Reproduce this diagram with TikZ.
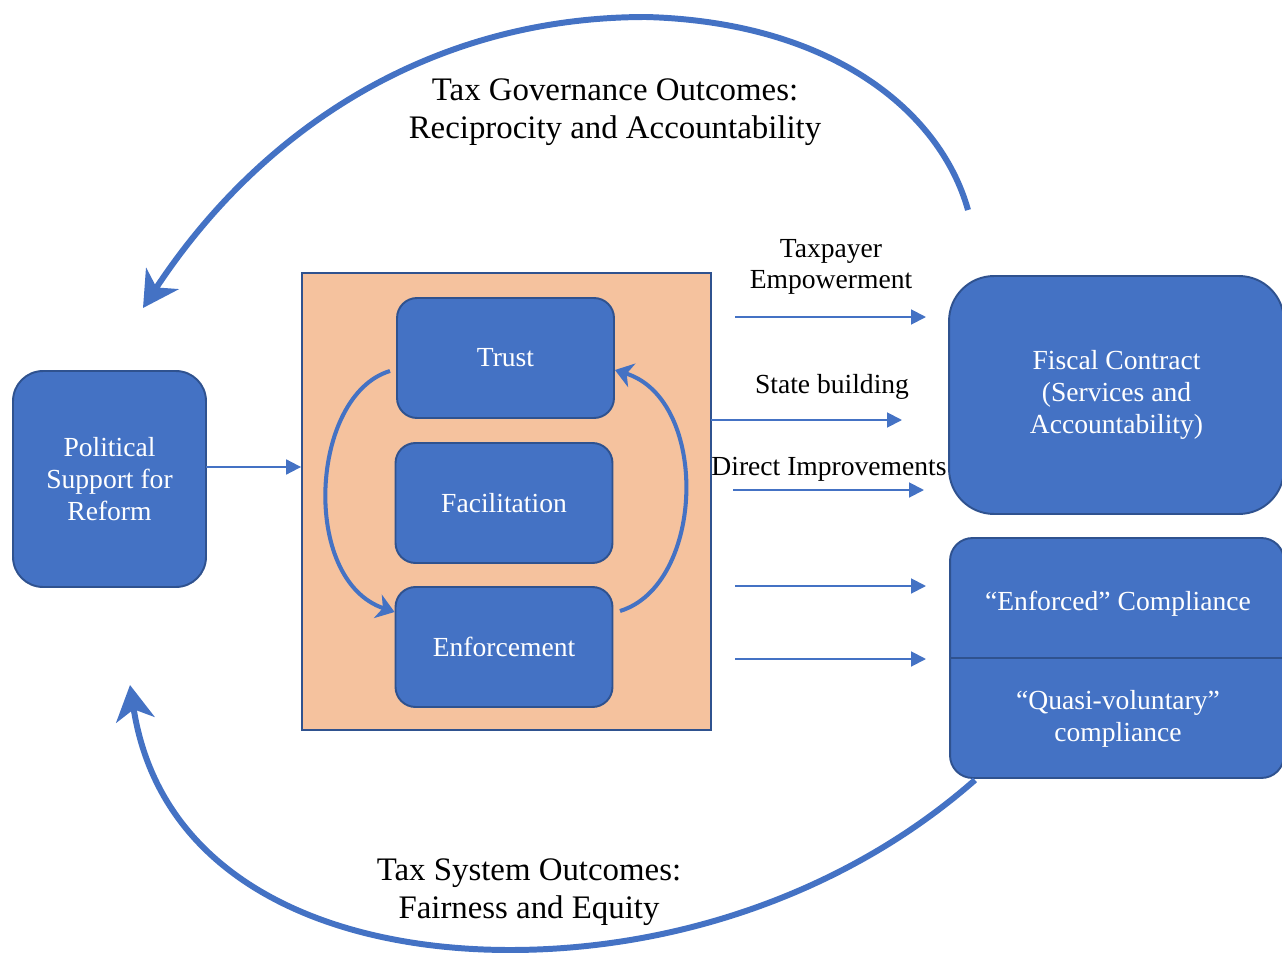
\documentclass[tikz,border=0pt]{standalone}
\usepackage{fontspec}
\setmainfont{Liberation Serif}
\usetikzlibrary{positioning, arrows.meta}

\definecolor{boxblue}{HTML}{4472C4}
\definecolor{edgeblue}{HTML}{2F528F}
\definecolor{peach}{HTML}{F5C29E}

\tikzset{
  block/.style={draw=edgeblue, line width=1.1pt, fill=boxblue, text=white, align=center,
    inner sep=0pt, font=\fontsize{15.7}{18}\selectfont},
  lbl/.style={align=center, inner sep=0pt, font=\fontsize{15.7}{18}\selectfont},
  biglbl/.style={align=center, inner sep=0pt, font=\fontsize{18.7}{21.5}\selectfont},
  flow/.style={draw=boxblue, line width=1.1pt, -{Triangle[length=8.5pt, width=8.5pt]}},
  outerarc/.style={draw=boxblue, line width=3.4pt, -{Stealth[length=20pt, width=22pt, inset=6pt]}},
  innerarc/.style={draw=boxblue, line width=2.3pt, -{Stealth[length=10pt, width=14pt, inset=3pt]}}
}

\begin{document}
\begin{tikzpicture}[x=0.02cm, y=-0.02cm]
    \useasboundingbox (0,0) rectangle (1282,953);
    \def\sw{4.34cm} % width of the small boxes
    \def\sh{2.4cm} % height of the small boxes

    % left box and the peach frame
    \node[block, rounded corners=0.6cm, minimum width=3.86cm, minimum height=4.32cm] (polit) at (109.5,479) {Political\\Support for\\Reform};
    \node[draw=edgeblue, line width=1.1pt, fill=peach, minimum width=8.18cm, minimum height=9.14cm] (frame) at (506.5,501.5) {};

    % the three levers
    \node[block, rounded corners=0.4cm, minimum width=\sw, minimum height=\sh] (trust) at (505.5,358) {Trust};
    \node[block, rounded corners=0.4cm, minimum width=\sw, minimum height=\sh] (facil) at (504,503) {Facilitation};
    \node[block, rounded corners=0.4cm, minimum width=\sw, minimum height=\sh] (enfor) at (504,647) {Enforcement};

    % right boxes
    \node[block, rounded corners=0.9cm, minimum width=6.7cm, minimum height=4.76cm] (fiscal) at (1116.5,395) {Fiscal Contract\\(Services and\\Accountability)};
    \node[block, rounded corners=0.45cm, minimum width=6.68cm, minimum height=4.8cm] (comp) at (1117,658) {};
    \draw[edgeblue, line width=1.1pt] (comp.west) -- (comp.east);
    \node[lbl, text=white] (enfcomp) at (1118,604) {“Enforced” Compliance};
    \node[lbl, text=white] (quasi) at (1118,719) {“Quasi-voluntary”\\compliance};

    % arrow labels
    \node[lbl] (emptext) at (831,267) {Taxpayer\\Empowerment};
    \node[lbl] (sbtext) at (832,387) {State building};
    \node[lbl] (ditext) at (829,469) {Direct Improvements};

    % thin arrows
    \coordinate (pin) at (206,467);
    \draw[flow] (pin) -- (pin -| frame.west);
    \foreach \name/\ya/\xa/\xb in {emp/317/735/926, sb/420/711/902, di/490/733/924, ec/586/735/926, qv/659/735/926} {
      \coordinate (\name-s) at (\xa,\ya);
      \coordinate (\name-e) at (\xb,\ya);
      \draw[flow] (\name-s) -- (\name-e);
    }

    % cycle inside the frame
    \coordinate (tl) at (390,371);
    \coordinate (er) at (620,611);
    \draw[innerarc] (tl) .. controls (310,395) and (300,580) .. (enfor.west |- 0,612);
    \draw[innerarc] (er) .. controls (705,585) and (710,400) .. (trust.east |- 0,370);

    % outcome loops
    \coordinate (gov-s) at (968,210);
    \coordinate (gov-top) at (646,17);
    \coordinate (gov-e) at (143,308);
    \coordinate (sys-s) at (975,780);
    \coordinate (sys-low) at (510,950);
    \coordinate (sys-e) at (130,685);
    \draw[outerarc] (gov-s) .. controls (940,110) and (830,22) .. (gov-top) .. controls (430,17) and (260,130) .. (gov-e);
    \draw[outerarc] (sys-s) .. controls (850,890) and (680,950) .. (sys-low) .. controls (330,950) and (160,880) .. (sys-e);

    \node[biglbl] (govtext) at (615,112) {Tax Governance Outcomes:\\Reciprocity and Accountability};
    \node[biglbl] (systext) at (529,892) {Tax System Outcomes:\\Fairness and Equity};
  \end{tikzpicture}
\end{document}
